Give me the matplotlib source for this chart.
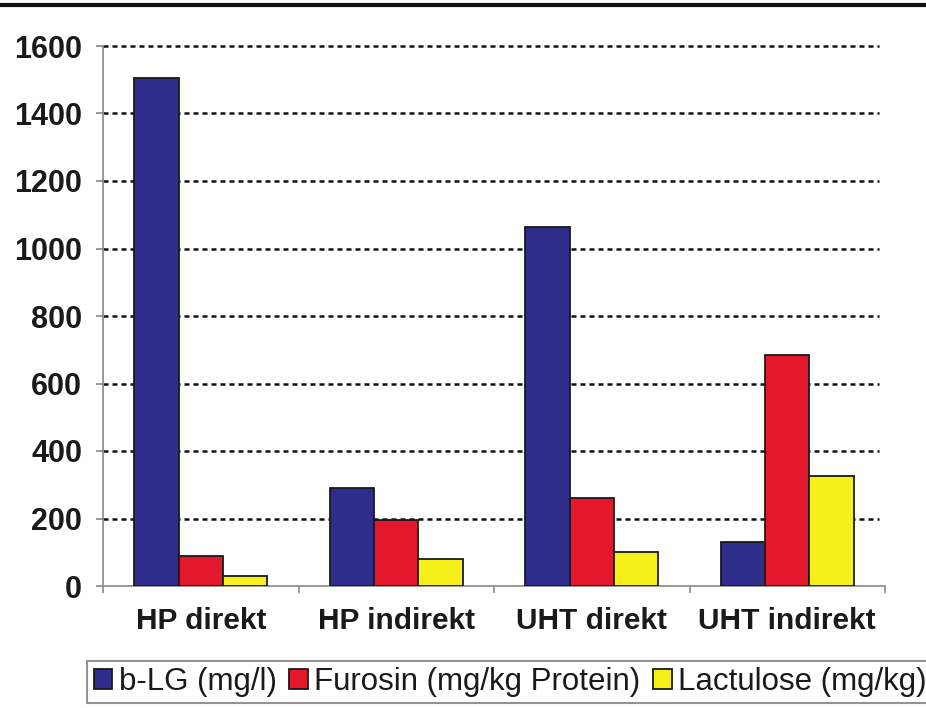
import numpy as np
import matplotlib.pyplot as plt
from matplotlib.lines import Line2D

categories = ['HP direkt', 'HP indirekt', 'UHT direkt', 'UHT indirekt']
blg = [1505, 290, 1065, 130]
furosin = [90, 195, 260, 685]
lactulose = [30, 80, 100, 325]
series_labels = ['b-LG (mg/l)', 'Furosin (mg/kg Protein)', 'Lactulose (mg/kg)']
colors = ['#302c8c', '#e3182d', '#f7ef1a']

plt.rcParams['font.family'] = ['Liberation Sans', 'DejaVu Sans']

fig = plt.figure(figsize=(9.26, 7.08), dpi=100)
ax = fig.add_axes([103 / 926, 1 - 586 / 708, (885 - 103) / 926, (586 - 46) / 708])

x = np.arange(len(categories))
w = 0.226
for i, (vals, c, lab) in enumerate(zip([blg, furosin, lactulose], colors, series_labels)):
    ax.bar(x + (i - 1) * w, vals, w, color=c, edgecolor='#1a1a1a', linewidth=1.3,
           label=lab, zorder=3)

ax.set_xlim(-0.5, 3.5)
ax.set_ylim(0, 1600)
ax.set_yticks(np.arange(0, 1601, 200))
ax.set_xticks(x)
ax.set_xticklabels(categories, fontsize=21.5, fontweight='bold', color='#1a1a1a')
ax.set_xticks(np.arange(-0.5, 3.6, 1), minor=True)
ax.tick_params(axis='x', which='major', length=0, pad=15)
ax.tick_params(axis='x', which='minor', length=5, color='#888888', width=1.2)
ax.tick_params(axis='y', length=5, color='#888888', width=1.2, pad=10,
               labelsize=22, labelcolor='#1a1a1a')
for t in ax.get_yticklabels():
    t.set_fontweight('bold')

# dashed gridlines stop a little short of the right edge
for yv in range(200, 1601, 200):
    ax.plot([-0.5, 3.47], [yv, yv], color='#111111', lw=1.8,
            linestyle=(0, (2, 1.6)), zorder=1, clip_on=False)

for s in ['top', 'right']:
    ax.spines[s].set_visible(False)
ax.spines['left'].set_color('#888888')
ax.spines['bottom'].set_color('#888888')
ax.spines['left'].set_linewidth(1.2)
ax.spines['bottom'].set_linewidth(1.2)

leg = fig.legend(loc='center', bbox_to_anchor=(510 / 926, 1 - 682 / 708), ncol=3,
                 fontsize=22.5, frameon=True, fancybox=False, edgecolor='#777777',
                 handlelength=0.6, handleheight=0.6, handletextpad=0.2,
                 columnspacing=0.4, borderpad=0.2, labelcolor='#1a1a1a')
leg.get_frame().set_linewidth(1.5)

# heavy rule across the top
fig.add_artist(Line2D([0, 1], [1 - 5 / 708, 1 - 5 / 708], color='#111111', lw=3,
                      transform=fig.transFigure))

fig.savefig('out.png', dpi=100)
